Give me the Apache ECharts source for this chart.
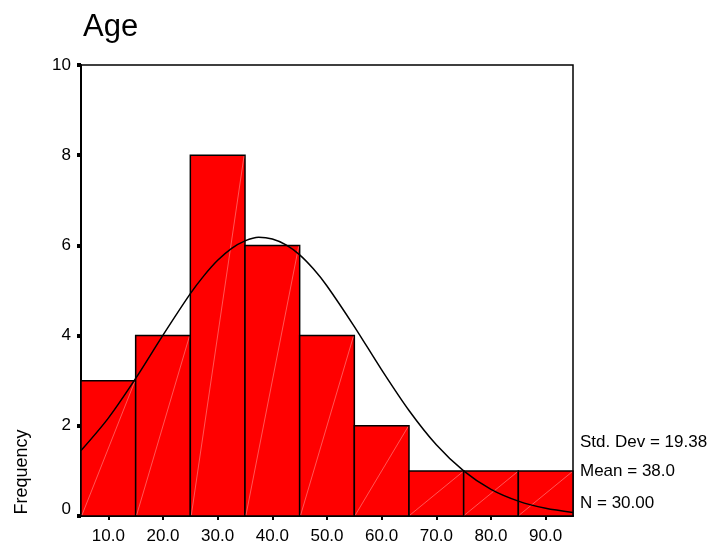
<!DOCTYPE html>
<html>
<head>
<meta charset="utf-8">
<script src="https://cdn.jsdelivr.net/npm/echarts@6/dist/echarts.min.js"></script>
<style>
  html, body { margin: 0; padding: 0; background: #fff; }
  #hist { width: 719px; height: 545px; }
</style>
</head>
<body>
<div id="hist"></div>
<script>
// histogram bins (age), width 10
var binLow = [5, 15, 25, 35, 45, 55, 65, 75, 85];
var binHigh = [15, 25, 35, 45, 55, 65, 75, 85, 95];
var counts = [3, 4, 8, 6, 4, 2, 1, 1, 1];
var tickAges = [10, 20, 30, 40, 50, 60, 70, 80, 90];
// normal curve
var curveX = [5, 10, 15, 20, 25, 27.5, 30, 32.5, 35, 37.5, 40, 42.5, 45, 47.5, 50, 55, 60, 65, 70, 75, 80, 85, 90, 95];
var curveY = [1.45, 2.17, 3.05, 4.01, 4.93, 5.33, 5.67, 5.93, 6.10, 6.18, 6.14, 6.01, 5.79, 5.48, 5.10, 4.20, 3.24, 2.34, 1.58, 1.00, 0.59, 0.33, 0.17, 0.08];
var stats = ['Std. Dev = 19.38', 'Mean = 38.0', 'N = 30.00'];

var font = 'Liberation Sans, Arial, sans-serif';
var myChart = echarts.init(document.getElementById('hist'));

var barData = binLow.map(function (lo, i) { return [lo, binHigh[i], counts[i]]; });
var curveData = curveX.map(function (x, i) { return [x, curveY[i]]; });

var option = {
    animation: false,
    backgroundColor: '#fff',
    title: {
        text: 'Age', left: 78, top: 7,
        textStyle: { fontFamily: font, fontSize: 31, fontWeight: 'normal', color: '#000' }
    },
    grid: {
        left: 81, top: 65, width: 492, height: 451,
        show: true, borderColor: '#000', borderWidth: 1.5, backgroundColor: '#fff'
    },
    xAxis: {
        type: 'value', min: 5, max: 95,
        splitLine: { show: false },
        axisLine: { lineStyle: { color: '#000', width: 2 } },
        axisTick: { show: true, customValues: tickAges, length: 4, lineStyle: { color: '#000', width: 2 } },
        axisLabel: {
            customValues: tickAges, margin: 12, color: '#000', fontFamily: font, fontSize: 17,
            formatter: function (v) { return v.toFixed(1); }
        }
    },
    yAxis: {
        type: 'value', min: 0, max: 10, interval: 2,
        splitLine: { show: false },
        axisLine: { show: true, lineStyle: { color: '#000', width: 2 } },
        axisTick: { show: true, length: 4, lineStyle: { color: '#000', width: 4 } },
        axisLabel: {
            margin: 10, color: '#000', fontFamily: font, fontSize: 17,
            formatter: function (v) { return v === 0 ? '{z|0}' : String(v); },
            rich: { z: { fontFamily: font, fontSize: 17, color: '#000', padding: [0, 0, 14, 0] } }
        }
    },
    series: [
        {
            type: 'custom',
            data: barData,
            z: 2,
            renderItem: function (params, api) {
                var p0 = api.coord([api.value(0), 0]);
                var p1 = api.coord([api.value(1), api.value(2)]);
                return {
                    type: 'group',
                    children: [
                        {
                            type: 'rect',
                            shape: { x: p0[0], y: p1[1], width: p1[0] - p0[0], height: p0[1] - p1[1] },
                            style: { fill: '#ff0000', stroke: '#000', lineWidth: 1.5 }
                        },
                        {
                            type: 'line',
                            shape: { x1: p0[0] + 1, y1: p0[1] - 1, x2: p1[0] - 1, y2: p1[1] + 1 },
                            style: { stroke: '#ff9090', lineWidth: 0.6 }
                        }
                    ]
                };
            }
        },
        {
            type: 'line',
            data: curveData,
            smooth: 0.3,
            symbol: 'none',
            z: 3,
            lineStyle: { color: '#000', width: 1.5 }
        }
    ],
    graphic: [
        {
            type: 'text', x: 22, y: 472, rotation: Math.PI / 2,
            style: {
                text: 'Frequency', fill: '#000', font: '18px ' + font,
                textAlign: 'center', textVerticalAlign: 'middle'
            }
        },
        {
            type: 'text', x: 580, y: 442,
            style: { text: stats[0], fill: '#000', font: '17px ' + font, textVerticalAlign: 'middle' }
        },
        {
            type: 'text', x: 580, y: 471,
            style: { text: stats[1], fill: '#000', font: '17px ' + font, textVerticalAlign: 'middle' }
        },
        {
            type: 'text', x: 580, y: 503,
            style: { text: stats[2], fill: '#000', font: '17px ' + font, textVerticalAlign: 'middle' }
        }
    ]
};

myChart.setOption(option);
</script>
</body>
</html>
